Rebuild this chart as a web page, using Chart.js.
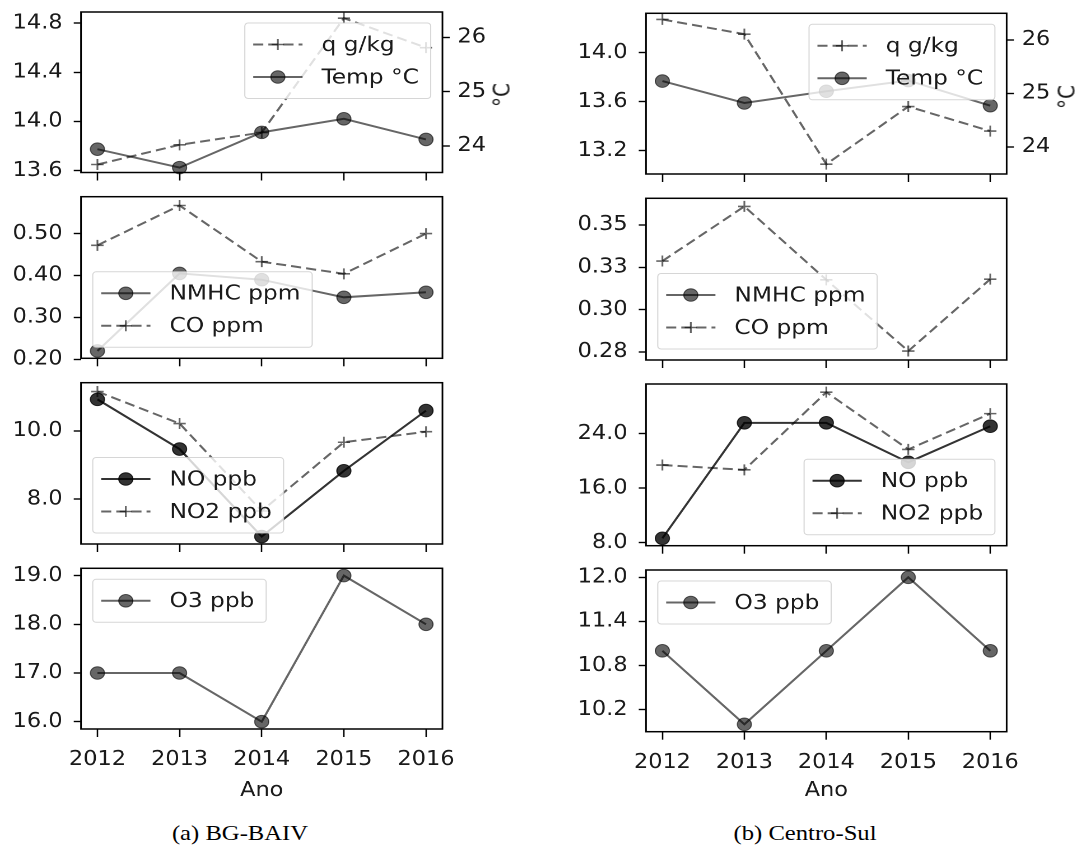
<!DOCTYPE html>
<html><head><meta charset="utf-8">
<script src="https://cdn.jsdelivr.net/npm/chart.js@4.4.0/dist/chart.umd.min.js"></script>
<style>
html,body{margin:0;padding:0;background:#fff;width:1086px;height:856px;overflow:hidden;position:relative;}
.wrap{position:absolute;transform-origin:0 0;}
.wrap canvas{display:block;}
.cap{position:absolute;font-family:"Liberation Serif","Times New Roman",serif;font-size:22px;color:#000;white-space:nowrap;transform:translateX(-50%) scaleX(1.12);line-height:26px;}
.ylab2{position:absolute;font-family:"DejaVu Sans";font-size:20px;color:#1a1a1a;white-space:nowrap;line-height:24px;transform:translate(-50%,-50%) scaleX(1.12) rotate(-90deg);}
</style></head><body>
<div class="cap" style="left:240px;top:820px">(a) BG-BAIV</div>
<div class="cap" style="left:805px;top:820px">(b) Centro-Sul</div>
<script>
// ---------------- data ----------------
const years = [2012, 2013, 2014, 2015, 2016];
const yearRange = [2011.8, 2016.2];

// (a) BG-BAIV
const bgQ    = [13.65, 13.81, 13.91, 14.84, 14.60];
const bgTemp = [23.94, 23.60, 24.25, 24.50, 24.12];
const bgNMHC = [0.220, 0.405, 0.390, 0.348, 0.360];
const bgCO   = [0.472, 0.567, 0.433, 0.404, 0.500];
const bgNO   = [10.93, 9.47, 6.90, 8.83, 10.60];
const bgNO2  = [11.16, 10.22, 7.65, 9.67, 9.98];
const bgO3   = [17, 17, 16, 19, 18];

// (b) Centro-Sul
const csQ    = [14.27, 14.15, 13.09, 13.56, 13.36];
const csTemp = [25.23, 24.82, 25.04, 25.24, 24.77];
const csNMHC = [null, null, null, null, null];
const csCO   = [0.3287, 0.3610, 0.3176, 0.2755, 0.3180];
const csNO   = [8.65, 25.6, 25.6, 19.8, 25.1];
const csNO2  = [19.4, 18.7, 30.1, 21.7, 26.95];
const csO3   = [11, 10, 11, 12, 11];

// axis ranges
const bgQRange = [13.585, 14.89],  bgTempRange = [23.51, 26.47];
const csQRange = [13.01, 14.32],   csTempRange = [23.49, 26.50];
const bgCORange = [0.2025, 0.588], csCORange = [0.2702, 0.3658];
const bgNORange = [6.68, 11.42],   csNORange = [7.56, 31.3];
const bgO3Range = [15.85, 19.15],  csO3Range = [9.9, 12.1];

// tick values and labels
const bgQTicks = [13.6, 14.0, 14.4, 14.8], bgQLabels = ['13.6', '14.0', '14.4', '14.8'];
const csQTicks = [13.2, 13.6, 14.0],       csQLabels = ['13.2', '13.6', '14.0'];
const tempTicks = [24, 25, 26],            tempLabels = ['24', '25', '26'];
const bgCOTicks = [0.2, 0.3, 0.4, 0.5],    bgCOLabels = ['0.20', '0.30', '0.40', '0.50'];
const csCOTicks = [0.275, 0.3, 0.325, 0.35], csCOLabels = ['0.28', '0.30', '0.33', '0.35'];
const bgNOTicks = [8, 10],                 bgNOLabels = ['8.0', '10.0'];
const csNOTicks = [8, 16, 24],             csNOLabels = ['8.0', '16.0', '24.0'];
const bgO3Ticks = [16, 17, 18, 19],        bgO3Labels = ['16.0', '17.0', '18.0', '19.0'];
const csO3Ticks = [10.2, 10.8, 11.4, 12.0], csO3Labels = ['10.2', '10.8', '11.4', '12.0'];
const yearLabels = ['2012', '2013', '2014', '2015', '2016'];

// ---------------- styles ----------------
const SX = 1.12;          // horizontal stretch of the original figure
const FS = 20;
const LFS = 20.8;
const FONT = 'DejaVu Sans';
const TXT = '#1a1a1a';
const ST = {
  dashCross: {color: 'rgba(0,0,0,0.6)', dash: [9, 4.5], point: 'cross', r: 5.5, pw: 1.6, fill: 'rgba(0,0,0,0)'},
  solidDot:  {color: 'rgba(0,0,0,0.6)', dash: [], point: 'circle', r: 6.3, pw: 1, fill: 'rgba(0,0,0,0.6)'},
  darkDot:   {color: 'rgba(0,0,0,0.8)', dash: [], point: 'circle', r: 6.3, pw: 1, fill: 'rgba(0,0,0,0.8)'}
};

function ds(label, values, st, axis) {
  return {
    label, yAxisID: axis || 'y',
    data: years.map((x, i) => ({x, y: values[i]})),
    borderColor: st.color, borderWidth: 2, borderDash: st.dash,
    pointStyle: st.point, pointRadius: st.r, pointBorderWidth: st.pw,
    pointBackgroundColor: st.fill, pointBorderColor: st.color,
    fill: false, tension: 0, clip: false, spanGaps: false
  };
}

// ---------------- plugin: frame and legend ----------------
function drawMarker(ctx, d, x, y) {
  ctx.save();
  ctx.setLineDash([]);
  ctx.lineWidth = d.pointBorderWidth;
  ctx.strokeStyle = d.pointBorderColor;
  ctx.fillStyle = d.pointBackgroundColor;
  if (d.pointStyle === 'cross') {
    const r = d.pointRadius;
    ctx.beginPath();
    ctx.moveTo(x - r, y); ctx.lineTo(x + r, y);
    ctx.moveTo(x, y - r); ctx.lineTo(x, y + r);
    ctx.stroke();
  } else {
    ctx.beginPath();
    ctx.arc(x, y, d.pointRadius, 0, Math.PI * 2);
    ctx.fill(); ctx.stroke();
  }
  ctx.restore();
}

const deco = {
  id: 'deco',
  afterDatasetsDraw(chart) {
    const {ctx, chartArea: a} = chart;
    ctx.save();
    ctx.strokeStyle = '#000';
    ctx.lineWidth = 1.5;
    ctx.strokeRect(a.left, a.top, a.right - a.left, a.bottom - a.top);
    ctx.restore();
  },
  afterDraw(chart, args, opts) {
    const {ctx, chartArea: a} = chart;
    const items = chart.data.datasets;
    ctx.save();
    ctx.font = LFS + 'px "' + FONT + '"';
    const tw = Math.max(...items.map(d => ctx.measureText(d.label).width));
    const padL = 7.5, hl = 44, htp = 17, padR = 10.5, padY = 9, rowH = 25, gap = 7.5;
    const bw = padL + hl + htp + tw + padR;
    const bh = 2 * padY + items.length * rowH + (items.length - 1) * gap;
    const mx = 10.5, my = 11;
    const loc = opts.loc;
    const bx = loc.indexOf('left') >= 0 ? a.left + mx : a.right - mx - bw;
    const by = loc.indexOf('upper') >= 0 ? a.top + my : a.bottom - my - bh;
    ctx.beginPath();
    ctx.roundRect(bx, by, bw, bh, 3);
    ctx.fillStyle = 'rgba(255,255,255,0.8)';
    ctx.fill();
    ctx.strokeStyle = 'rgba(204,204,204,0.8)';
    ctx.lineWidth = 1;
    ctx.stroke();
    items.forEach((d, i) => {
      const cy = by + padY + rowH / 2 + i * (rowH + gap);
      const hx = bx + padL;
      ctx.beginPath();
      ctx.setLineDash(d.borderDash || []);
      ctx.strokeStyle = d.borderColor;
      ctx.lineWidth = d.borderWidth;
      ctx.moveTo(hx, cy); ctx.lineTo(hx + hl, cy);
      ctx.stroke();
      ctx.setLineDash([]);
      drawMarker(ctx, d, hx + hl / 2, cy);
      ctx.fillStyle = TXT;
      ctx.textAlign = 'left';
      ctx.textBaseline = 'middle';
      ctx.fillText(d.label, hx + hl + htp, cy + 1);
    });
    ctx.restore();
  }
};

// ---------------- panel factory ----------------
function yScale(pos, range, vals, labels, width) {
  return {
    type: 'linear', position: pos, min: range[0], max: range[1],
    afterBuildTicks: s => { s.ticks = vals.map(v => ({value: v})); },
    afterFit: s => { s.width = width; s.paddingTop = 0; s.paddingBottom = 0; s.paddingLeft = 0; s.paddingRight = 0; },
    grid: {display: true, drawOnChartArea: false, drawTicks: true, tickLength: 6.5, tickColor: '#000', tickWidth: 1.4},
    border: {display: false},
    ticks: {
      color: TXT, font: {family: FONT, size: FS}, padding: pos === 'left' ? 10 : 7, autoSkip: false,
      callback: v => { const i = vals.findIndex(t => Math.abs(t - v) < 1e-9); return i >= 0 ? labels[i] : ''; }
    }
  };
}

function makePanel(c) {
  const [cx0, cy0, cx1, cy1] = c.canvas;
  const [pl, pt, pr, pb] = c.plot;
  const W = Math.round((cx1 - cx0) / SX), H = cy1 - cy0;
  const wrap = document.createElement('div');
  wrap.className = 'wrap';
  wrap.style.left = cx0 + 'px'; wrap.style.top = cy0 + 'px';
  wrap.style.width = W + 'px'; wrap.style.height = H + 'px';
  wrap.style.transform = 'scaleX(' + SX + ')';
  const cv = document.createElement('canvas');
  cv.width = W; cv.height = H;
  cv.style.width = W + 'px'; cv.style.height = H + 'px';
  wrap.appendChild(cv);
  document.body.appendChild(wrap);

  if (c.ylabel2) {
    const lab = document.createElement('div');
    lab.className = 'ylab2';
    lab.textContent = c.ylabel2;
    lab.style.left = (pr + 60) + 'px';
    lab.style.top = ((pt + pb) / 2 + 3) + 'px';
    document.body.appendChild(lab);
  }

  const leftW = (pl - cx0) / SX, rightW = (cx1 - pr) / SX, topP = pt - cy0, botH = cy1 - pb;
  const scales = {
    x: {
      type: 'linear', min: yearRange[0], max: yearRange[1],
      afterBuildTicks: s => { s.ticks = years.map(v => ({value: v})); },
      afterFit: s => { s.height = botH; s.paddingLeft = 0; s.paddingRight = 0; s.paddingTop = 0; s.paddingBottom = 0; },
      grid: {display: true, drawOnChartArea: false, drawTicks: true, tickLength: 8, tickColor: '#000', tickWidth: 1.3},
      border: {display: false},
      ticks: {
        display: !!c.bottom, padding: 11, color: TXT, font: {family: FONT, size: FS},
        maxRotation: 0, autoSkip: false,
        callback: v => { const i = years.indexOf(v); return i >= 0 ? yearLabels[i] : ''; }
      },
      title: {display: !!c.bottom, text: 'Ano', color: TXT, font: {family: FONT, size: FS}, padding: {top: 0, bottom: 9}}
    },
    y: yScale('left', c.y.range, c.y.ticks, c.y.labels, leftW)
  };
  if (c.y2) scales.y2 = yScale('right', c.y2.range, c.y2.ticks, c.y2.labels, rightW);

  new Chart(cv, {
    type: 'line',
    data: {datasets: c.datasets},
    options: {
      responsive: false, animation: false, devicePixelRatio: 2, events: [],
      layout: {padding: {top: topP, left: 0, right: c.y2 ? 0 : rightW, bottom: 0}},
      scales,
      plugins: {legend: {display: false}, tooltip: {enabled: false}, deco: {loc: c.loc}}
    },
    plugins: [deco]
  });
}

// ---------------- layout ----------------
const colL = {cx: [0, 545], px: [81, 442]};
const colR = {cx: [545, 1086], px: [646, 1006.7]};
const rowsY = [[0, 184], [184, 370], [370, 556], [556, 812]];
const plotYL = [[12, 172.5], [196.7, 358.3], [382.7, 544], [568.3, 729]];
const plotYR = [[13.3, 174], [198.3, 360], [384, 545.7], [570, 731.7]];

function rect(col, r, plotY) {
  return {
    canvas: [col.cx[0], rowsY[r][0], col.cx[1], rowsY[r][1]],
    plot: [col.px[0], plotY[r][0], col.px[1], plotY[r][1]]
  };
}

const panels = [
  Object.assign(rect(colL, 0, plotYL), {
    datasets: [ds('q g/kg', bgQ, ST.dashCross, 'y'), ds('Temp °C', bgTemp, ST.solidDot, 'y2')],
    y: {range: bgQRange, ticks: bgQTicks, labels: bgQLabels},
    y2: {range: bgTempRange, ticks: tempTicks, labels: tempLabels},
    loc: 'upper right', ylabel2: '°C'}),
  Object.assign(rect(colL, 1, plotYL), {
    datasets: [ds('NMHC ppm', bgNMHC, ST.solidDot), ds('CO ppm', bgCO, ST.dashCross)],
    y: {range: bgCORange, ticks: bgCOTicks, labels: bgCOLabels}, loc: 'lower left'}),
  Object.assign(rect(colL, 2, plotYL), {
    datasets: [ds('NO ppb', bgNO, ST.darkDot), ds('NO2 ppb', bgNO2, ST.dashCross)],
    y: {range: bgNORange, ticks: bgNOTicks, labels: bgNOLabels}, loc: 'lower left'}),
  Object.assign(rect(colL, 3, plotYL), {
    datasets: [ds('O3 ppb', bgO3, ST.solidDot)],
    y: {range: bgO3Range, ticks: bgO3Ticks, labels: bgO3Labels}, loc: 'upper left', bottom: true}),

  Object.assign(rect(colR, 0, plotYR), {
    datasets: [ds('q g/kg', csQ, ST.dashCross, 'y'), ds('Temp °C', csTemp, ST.solidDot, 'y2')],
    y: {range: csQRange, ticks: csQTicks, labels: csQLabels},
    y2: {range: csTempRange, ticks: tempTicks, labels: tempLabels},
    loc: 'upper right', ylabel2: '°C'}),
  Object.assign(rect(colR, 1, plotYR), {
    datasets: [ds('NMHC ppm', csNMHC, ST.solidDot), ds('CO ppm', csCO, ST.dashCross)],
    y: {range: csCORange, ticks: csCOTicks, labels: csCOLabels}, loc: 'lower left'}),
  Object.assign(rect(colR, 2, plotYR), {
    datasets: [ds('NO ppb', csNO, ST.darkDot), ds('NO2 ppb', csNO2, ST.dashCross)],
    y: {range: csNORange, ticks: csNOTicks, labels: csNOLabels}, loc: 'lower right'}),
  Object.assign(rect(colR, 3, plotYR), {
    datasets: [ds('O3 ppb', csO3, ST.solidDot)],
    y: {range: csO3Range, ticks: csO3Ticks, labels: csO3Labels}, loc: 'upper left', bottom: true})
];

panels.forEach(makePanel);
</script>
</body></html>
